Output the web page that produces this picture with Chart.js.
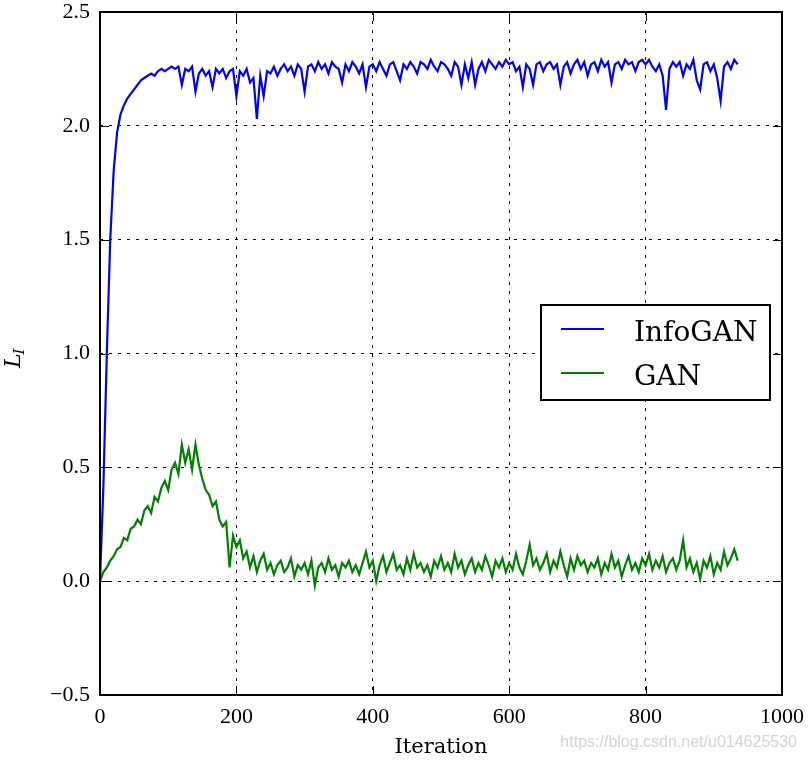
<!DOCTYPE html>
<html>
<head>
<meta charset="utf-8">
<script src="https://cdn.jsdelivr.net/npm/chart.js@4.4.1/dist/chart.umd.min.js"></script>
<style>
  body { margin: 0; background: #fff; }
  #wrap { position: relative; width: 808px; height: 760px; }
  #mark { position: absolute; right: 11px; top: 733px; font: 16px "Liberation Sans", sans-serif; color: #d4d4d4; }
</style>
</head>
<body>
<div id="wrap">
  <canvas id="canvas" width="808" height="760"></canvas>
  <div id="mark">https://blog.csdn.net/u014625530</div>
</div>
<script>
// sampled every 5 iterations (0 .. 935)
const STEP = 5;
const infoGAN = [
  0.00, 0.42, 1.00, 1.50, 1.80, 1.97, 2.05, 2.09, 2.12, 2.14,
  2.16, 2.18, 2.20, 2.21, 2.22, 2.23, 2.22, 2.24, 2.25, 2.24,
  2.25, 2.26, 2.25, 2.26, 2.18, 2.25, 2.24, 2.26, 2.15, 2.23,
  2.25, 2.22, 2.24, 2.17, 2.25, 2.23, 2.25, 2.21, 2.24, 2.25,
  2.13, 2.24, 2.22, 2.25, 2.19, 2.21, 2.03, 2.22, 2.13, 2.24,
  2.23, 2.26, 2.22, 2.25, 2.27, 2.24, 2.26, 2.22, 2.27, 2.25,
  2.15, 2.26, 2.27, 2.24, 2.28, 2.25, 2.27, 2.23, 2.28, 2.26,
  2.25, 2.19, 2.27, 2.24, 2.28, 2.26, 2.23, 2.27, 2.17, 2.26,
  2.27, 2.24, 2.28, 2.25, 2.22, 2.27, 2.28, 2.24, 2.20, 2.27,
  2.25, 2.28, 2.26, 2.23, 2.28, 2.27, 2.25, 2.29, 2.26, 2.24,
  2.28, 2.27, 2.25, 2.22, 2.28, 2.26, 2.18, 2.27, 2.21, 2.28,
  2.18, 2.25, 2.28, 2.24, 2.29, 2.27, 2.25, 2.28, 2.26, 2.29,
  2.27, 2.28, 2.24, 2.26, 2.17, 2.27, 2.25, 2.18, 2.27, 2.28,
  2.24, 2.27, 2.28, 2.25, 2.27, 2.18, 2.26, 2.28, 2.23, 2.27,
  2.29, 2.25, 2.28, 2.22, 2.27, 2.28, 2.24, 2.29, 2.26, 2.28,
  2.19, 2.27, 2.28, 2.25, 2.29, 2.27, 2.28, 2.24, 2.28, 2.29,
  2.27, 2.29, 2.26, 2.24, 2.27, 2.22, 2.07, 2.25, 2.28, 2.26,
  2.28, 2.22, 2.27, 2.25, 2.29, 2.20, 2.16, 2.27, 2.28, 2.24,
  2.27, 2.21, 2.11, 2.26, 2.28, 2.25, 2.29, 2.27
];
const gan = [
  0.00, 0.04, 0.06, 0.09, 0.11, 0.14, 0.15, 0.19, 0.18, 0.23,
  0.24, 0.27, 0.25, 0.31, 0.33, 0.30, 0.37, 0.35, 0.41, 0.44,
  0.40, 0.49, 0.52, 0.47, 0.60, 0.52, 0.58, 0.49, 0.60, 0.51,
  0.45, 0.40, 0.38, 0.33, 0.35, 0.27, 0.24, 0.26, 0.06, 0.20,
  0.15, 0.18, 0.10, 0.13, 0.06, 0.11, 0.04, 0.09, 0.12, 0.05,
  0.08, 0.03, 0.07, 0.09, 0.04, 0.06, 0.10, 0.02, 0.07, 0.05,
  0.08, 0.03, 0.09, -0.02, 0.06, 0.08, 0.04, 0.10, 0.05, 0.07,
  0.02, 0.08, 0.06, 0.09, 0.04, 0.07, 0.03, 0.08, 0.13, 0.06,
  0.09, 0.00, 0.07, 0.11, 0.04, 0.08, 0.12, 0.05, 0.07, 0.03,
  0.10, 0.05, 0.12, 0.06, 0.08, 0.04, 0.07, 0.02, 0.09, 0.06,
  0.11, 0.05, 0.08, 0.04, 0.12, 0.06, 0.09, 0.03, 0.07, 0.10,
  0.04, 0.08, 0.05, 0.11, 0.07, 0.02, 0.09, 0.06, 0.10, 0.04,
  0.08, 0.05, 0.12, 0.06, 0.03, 0.09, 0.16, 0.07, 0.10, 0.05,
  0.08, 0.12, 0.04, 0.09, 0.06, 0.13, 0.07, 0.02, 0.10, 0.05,
  0.11, 0.07, 0.09, 0.04, 0.08, 0.06, 0.10, 0.03, 0.08, 0.05,
  0.12, 0.06, 0.09, 0.02, 0.07, 0.11, 0.05, 0.08, 0.04, 0.10,
  0.07, 0.12, 0.05, 0.09, 0.06, 0.11, 0.04, 0.08, 0.10, 0.05,
  0.09, 0.18, 0.06, 0.10, 0.04, 0.08, 0.01, 0.09, 0.06, 0.11,
  0.03, 0.08, 0.05, 0.13, 0.07, 0.10, 0.14, 0.09
];
const seriesNames = ['InfoGAN', 'GAN'];
const seriesColors = ['#0000ff', '#008000'];
const xTicks = [0, 200, 400, 600, 800, 1000];
const yTicks = [-0.5, 0.0, 0.5, 1.0, 1.5, 2.0, 2.5];

const toPoints = arr => arr.map((v, i) => ({ x: i * STEP, y: v }));
const fmtY = v => v.toFixed(1).replace('-', '\u2212');
const noPad = s => { s.paddingTop = 0; s.paddingBottom = 0; s.paddingLeft = 0; s.paddingRight = 0; };

// frame, inward ticks, legend box and the L_I label
const decor = {
  id: 'decor',
  afterDraw(chart) {
    const { ctx, chartArea: a, scales } = chart;
    ctx.save();
    ctx.strokeStyle = '#000';
    ctx.lineWidth = 1;
    const tl = 9;
    ctx.beginPath();
    xTicks.forEach(t => {
      const px = Math.round(scales.x.getPixelForValue(t)) + 0.5;
      ctx.moveTo(px, a.bottom); ctx.lineTo(px, a.bottom - tl);
      ctx.moveTo(px, a.top); ctx.lineTo(px, a.top + tl);
    });
    yTicks.forEach(t => {
      const py = Math.round(scales.y.getPixelForValue(t)) + 0.5;
      ctx.moveTo(a.left, py); ctx.lineTo(a.left + tl, py);
      ctx.moveTo(a.right, py); ctx.lineTo(a.right - tl, py);
    });
    ctx.stroke();
    ctx.lineWidth = 2;
    ctx.strokeRect(a.left, a.top, a.right - a.left, a.bottom - a.top);

    // legend
    ctx.fillStyle = '#fff';
    ctx.fillRect(541, 305, 229, 95);
    ctx.lineWidth = 2;
    ctx.strokeRect(541, 305, 229, 95);
    ctx.font = '28px "DejaVu Serif", serif';
    ctx.textBaseline = 'alphabetic';
    chart.data.datasets.forEach((ds, i) => {
      const ly = 329 + i * 44;
      ctx.strokeStyle = ds.borderColor;
      ctx.beginPath();
      ctx.moveTo(561, ly); ctx.lineTo(604, ly);
      ctx.stroke();
      ctx.fillStyle = '#000';
      ctx.fillText(ds.label, 634, ly + 12);
    });

    // y label L_I
    ctx.translate(20, 356);
    ctx.rotate(-Math.PI / 2);
    ctx.fillStyle = '#000';
    ctx.font = 'italic 22px "DejaVu Serif", serif';
    ctx.fillText('L', -12, 0);
    const w = ctx.measureText('L').width;
    ctx.font = 'italic 15px "DejaVu Serif", serif';
    ctx.fillText('I', -12 + w - 1, 4);
    ctx.restore();
  }
};

new Chart(document.getElementById('canvas'), {
  type: 'line',
  data: {
    datasets: [
      { label: seriesNames[0], data: toPoints(infoGAN), borderColor: seriesColors[0], borderWidth: 2.2, pointRadius: 0, tension: 0, fill: false },
      { label: seriesNames[1], data: toPoints(gan), borderColor: seriesColors[1], borderWidth: 2.2, pointRadius: 0, tension: 0, fill: false }
    ]
  },
  options: {
    responsive: false,
    animation: false,
    layout: { padding: { top: 12, right: 26, left: 0, bottom: 0 } },
    plugins: { legend: { display: false }, tooltip: { enabled: false } },
    scales: {
      x: {
        type: 'linear', min: 0, max: 1000,
        afterBuildTicks: s => { s.ticks = xTicks.map(v => ({ value: v })); },
        afterFit: s => { s.height = 65; noPad(s); },
        grid: { color: '#000', lineWidth: 1, drawTicks: false },
        border: { display: false, dash: [3, 6] },
        ticks: { color: '#000', padding: 9, maxRotation: 0, callback: v => String(v), font: { family: '"Liberation Serif", serif', size: 22 } },
        title: { display: true, text: 'Iteration', color: '#000', padding: 0, font: { family: '"DejaVu Serif", serif', size: 21 } }
      },
      y: {
        type: 'linear', min: -0.5, max: 2.5,
        afterBuildTicks: s => { s.ticks = yTicks.map(v => ({ value: v })); },
        afterFit: s => { s.width = 100; noPad(s); },
        grid: { color: '#000', lineWidth: 1, drawTicks: false },
        border: { display: false, dash: [3, 6] },
        ticks: { color: '#000', padding: 10, callback: v => fmtY(v), font: { family: '"Liberation Serif", serif', size: 22 } }
      }
    }
  },
  plugins: [decor]
});
</script>
</body>
</html>
